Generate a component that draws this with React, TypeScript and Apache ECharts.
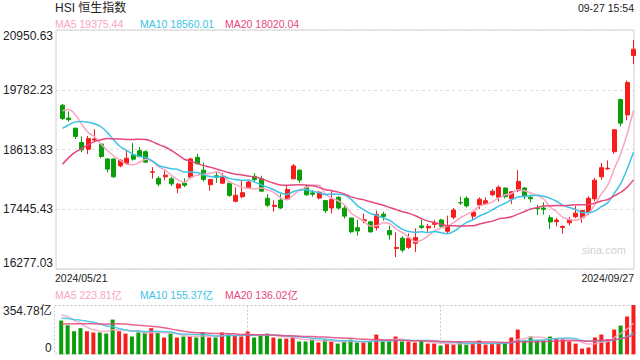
import React, { useEffect, useRef } from 'react';
import * as echarts from 'echarts';

const DATES = ['2024/05/21', '2024/09/27'];
const TITLE = 'HSI 恒生指数';
const TIME_LABEL = '09-27 15:54';
const PRICE_MA_LABELS = ['MA5 19375.44', 'MA10 18560.01', 'MA20 18020.04'];
const VOL_MA_LABELS = ['MA5 223.81亿', 'MA10 155.37亿', 'MA20 136.02亿'];
const PRICE_MIN = 16277.03;
const PRICE_MAX = 20950.63;
const PRICE_STEP = 1168.4;
const VOL_MAX = 354.78;

// closes of the 19 sessions before the first candle (for the moving averages)
const PRE_CLOSE = [16511.69, 16828.93, 17201.27, 17284.54, 17651.15, 17746.91, 17763.03, 18207.13, 18475.92, 18578.3,
  18479.37, 18313.86, 18537.81, 18963.68, 19115.06, 19073.71, 19376.53, 19553.61, 19636.22];

const OPEN = [19480, 19230, 19030, 18750, 18620, 18800, 18720, 18430, 18430, 18295,
  18340, 18510, 18590, 18570, 18170, 18050, 18080, 18040, 17860, 17955,
  18070, 18460, 18210, 17925, 18100, 17955, 17955, 17600, 17690, 17870,
  18090, 18040, 17660, 17500, 17625, 17635, 18040, 18210, 17875, 17765,
  17665, 17615, 17470, 17680, 17465, 17275, 17085, 17220, 17200, 17085,
  17350, 17030, 16680, 16880, 16700, 16780, 17120, 17080, 17150, 17235,
  17015, 17290, 17575, 17660, 17310, 17530, 17550, 17730, 17680, 17860,
  17650, 17810, 17860, 17680, 17470, 17470, 17280, 17200, 17090, 17180,
  17300, 17280, 17390, 17650, 18080, 18235, 18570, 19590, 19290, 20450];

const CLOSE = [19220.62, 19195.6, 18868.71, 18608.94, 18827.35, 18821.16, 18477.01, 18230.19, 18079.61, 18403.04,
  18444.11, 18424.96, 18475.53, 18366.95, 18176.34, 17937.84, 18112.63, 17941.78, 17936.12, 17915.55,
  18430.39, 18335.32, 18028.52, 18027.71, 18072.9, 18089.93, 17716.47, 17718.61, 17769.14, 17978.57,
  18028.28, 17799.61, 17524.06, 17523.23, 17471.67, 17832.33, 18293.38, 18015.94, 17727.98, 17739.41,
  17778.41, 17417.68, 17635.88, 17469.36, 17311.05, 17005.3, 17021.31, 17238.0, 17002.91, 17344.6,
  17304.96, 16945.51, 16698.36, 16647.34, 16877.86, 16891.83, 17090.23, 17111.83, 17174.06, 17113.36,
  17109.14, 17430.16, 17569.57, 17511.2, 17391.01, 17641.04, 17612.1, 17798.73, 17874.67, 17692.45,
  17786.32, 17989.07, 17691.97, 17651.15, 17457.34, 17444.3, 17196.96, 17234.09, 17108.71, 17240.39,
  17369.09, 17422.12, 17660.02, 18013.16, 18258.57, 18247.11, 19000.56, 19129.1, 19924.58, 20575.85];

const LOW = [19190, 19160, 18820, 18560, 18525, 18760, 18440, 18165, 18060, 18265,
  18320, 18395, 18460, 18350, 18045, 17895, 18010, 17900, 17760, 17880,
  18040, 18320, 17985, 17810, 17960, 17935, 17690, 17580, 17660, 17840,
  17980, 17790, 17490, 17400, 17450, 17630, 18040, 17960, 17710, 17690,
  17640, 17370, 17360, 17440, 17260, 16975, 16930, 17170, 16990, 17030,
  17225, 16850, 16510, 16600, 16670, 16610, 17060, 17005, 17080, 17090,
  16970, 17250, 17530, 17480, 17230, 17450, 17530, 17700, 17600, 17660,
  17550, 17780, 17640, 17580, 17330, 17340, 17060, 17110, 16970, 17130,
  17270, 17180, 17330, 17600, 18020, 18215, 18530, 19065, 19185, 20285];

const HIGH = [19505, 19360, 19040, 18870, 18880, 19010, 18740, 18440, 18440, 18425,
  18590, 18740, 18660, 18600, 18270, 18090, 18200, 18080, 17960, 18050,
  18450, 18530, 18360, 18040, 18170, 18155, 17960, 17875, 18005, 18000,
  18150, 18100, 17740, 17620, 17740, 17920, 18330, 18220, 17930, 17820,
  17800, 17620, 17810, 17700, 17510, 17280, 17240, 17360, 17220, 17420,
  17400, 17125, 16990, 16920, 16975, 17070, 17240, 17160, 17240, 17260,
  17320, 17470, 17690, 17700, 17410, 17680, 17680, 17840, 17910, 17870,
  17800, 18210, 17880, 17730, 17530, 17580, 17330, 17280, 17130, 17300,
  17510, 17430, 17700, 18060, 18350, 18400, 19010, 19610, 19960, 20755];

// turnover, 亿
const PRE_VOLUME = [150, 165, 180, 170, 160, 175, 190, 168, 182, 190, 220, 245, 230, 250, 230, 270, 300, 285, 317];
const VOLUME = [243, 209, 166, 188, 166, 157, 157, 149, 250, 166,
  149, 128, 157, 157, 188, 157, 121, 149, 121, 128,
  128, 121, 157, 121, 121, 157, 149, 135, 128, 164,
  121, 135, 149, 121, 113, 113, 121, 92, 92, 106,
  85, 106, 92, 77, 92, 106, 85, 85, 92, 142,
  92, 92, 128, 92, 92, 85, 99, 77, 77, 63,
  77, 70, 92, 70, 77, 99, 70, 77, 77, 85,
  121, 178, 99, 128, 99, 99, 128, 113, 113, 92,
  77, 41, 49, 121, 142, 108, 178, 207, 272, 354.78];

const UP = '#f71d1d';
const DOWN = '#0a9e0a';
const MA_COLORS = ['#f9a5c2', '#3cc3e6', '#e6477c'];
const FONT = '"Liberation Sans", Arial, "Noto Sans CJK SC", sans-serif';

function movingAverage(pre: number[], vals: number[], n: number): number[][] {
  const all = pre.concat(vals);
  const off = pre.length;
  return vals.map((_, i) => {
    let s = 0;
    for (let k = off + i - n + 1; k <= off + i; k++) s += all[k];
    return [i, s / n];
  });
}

export default function App() {
  const ref = useRef<HTMLDivElement>(null);
  useEffect(() => {
    document.body.style.margin = '0';
    const chart = echarts.init(ref.current!, null, { renderer: 'svg' });
    const xMin = -1.01;
    const xMax = 89.08;
    const periods = [5, 10, 20];
    const txt = (x: number, y: number, text: string, color: string, size: number, align = 'left') => ({
      type: 'text', x, y, silent: true,
      style: { text, fill: color, font: `${size}px ${FONT}`, align, verticalAlign: 'middle' },
    });
    const option: any = {
      animation: false,
      backgroundColor: '#fff',
      grid: [
        { left: 54, right: 6, top: 30, height: 239, show: true, borderColor: '#cfcfcf', borderWidth: 1 },
        { left: 54, right: 6, top: 305, height: 49.3 },
      ],
      xAxis: [
        { type: 'value', gridIndex: 0, min: xMin, max: xMax, axisLabel: { show: false }, axisTick: { show: false }, axisLine: { show: false }, splitLine: { show: false } },
        { type: 'value', gridIndex: 1, min: xMin, max: xMax, axisLabel: { show: false }, axisTick: { show: false }, axisLine: { show: false }, splitLine: { show: false } },
      ],
      yAxis: [
        {
          type: 'value', gridIndex: 0, min: PRICE_MIN, max: PRICE_MAX, interval: PRICE_STEP,
          axisLine: { show: false }, axisTick: { show: false },
          axisLabel: {
            color: '#222', fontSize: 12, fontFamily: FONT, margin: 3,
            formatter: (v: number) => v.toFixed(2),
            verticalAlignMaxLabel: 'top', verticalAlignMinLabel: 'bottom',
          },
          splitLine: { lineStyle: { color: '#dcdcdc', type: [3, 3], width: 1 } },
        },
        {
          type: 'value', gridIndex: 1, min: 0, max: VOL_MAX, interval: VOL_MAX,
          axisLine: { show: false }, axisTick: { show: false },
          axisLabel: {
            color: '#222', fontSize: 12, fontFamily: FONT, margin: 3,
            formatter: (v: number) => (v === 0 ? '0' : v.toFixed(2) + '亿'),
            verticalAlignMaxLabel: 'top', verticalAlignMinLabel: 'bottom',
          },
          splitLine: { show: false },
        },
      ],
      series: [
        {
          type: 'candlestick', xAxisIndex: 0, yAxisIndex: 0, barWidth: 4.5,
          data: CLOSE.map((c, i) => [i, OPEN[i], c, LOW[i], HIGH[i]]),
          itemStyle: { color: UP, color0: DOWN, borderColor: UP, borderColor0: DOWN, borderWidth: 1 },
        },
        ...periods.map((n, k) => ({
          type: 'line', xAxisIndex: 0, yAxisIndex: 0, showSymbol: false, smooth: 0.3,
          data: movingAverage(PRE_CLOSE, CLOSE, n),
          lineStyle: { color: MA_COLORS[k], width: 1.5 }, z: 3,
        })),
        {
          type: 'bar', xAxisIndex: 1, yAxisIndex: 1, barWidth: 4,
          data: VOLUME.map((v, i) => ({ value: [i, v], itemStyle: { color: CLOSE[i] >= OPEN[i] ? UP : DOWN } })),
        },
        ...periods.map((n, k) => ({
          type: 'line', xAxisIndex: 1, yAxisIndex: 1, showSymbol: false, smooth: 0.3,
          data: movingAverage(PRE_VOLUME, VOLUME, n),
          lineStyle: { color: MA_COLORS[k], width: 1.5, opacity: 0.85 }, z: 3,
        })),
      ],
      graphic: [
        txt(55, 8, TITLE, '#222', 12),
        txt(634, 8, TIME_LABEL, '#222', 10.5, 'right'),
        txt(55, 24, PRICE_MA_LABELS[0], MA_COLORS[0], 10.5),
        txt(140, 24, PRICE_MA_LABELS[1], MA_COLORS[1], 10.5),
        txt(225, 24, PRICE_MA_LABELS[2], MA_COLORS[2], 10.5),
        txt(55, 278, DATES[0], '#222', 10.5),
        txt(634, 278, DATES[1], '#222', 10.5, 'right'),
        txt(55, 295, VOL_MA_LABELS[0], MA_COLORS[0], 10.5),
        txt(140, 295, VOL_MA_LABELS[1], MA_COLORS[1], 10.5),
        txt(225, 295, VOL_MA_LABELS[2], MA_COLORS[2], 10.5),
        txt(582, 250, 'sina.com', '#d2d2d2', 11),
        {
          type: 'rect', silent: true, z: -1,
          shape: { x: 54.5, y: 305.5, width: 579, height: 48.5 },
          style: { fill: 'none', stroke: '#c8c8c8', lineWidth: 1, lineDash: [2, 2] },
        },
        { type: 'line', silent: true, shape: { x1: 247.5, y1: 305.5, x2: 247.5, y2: 354 }, style: { stroke: '#c8c8c8', lineWidth: 1, lineDash: [2, 2] } },
        { type: 'line', silent: true, shape: { x1: 440.5, y1: 305.5, x2: 440.5, y2: 354 }, style: { stroke: '#c8c8c8', lineWidth: 1, lineDash: [2, 2] } },
      ],
    };
    chart.setOption(option);
    return () => chart.dispose();
  }, []);
  return <div ref={ref} style={{ width: 640, height: 360, background: '#fff' }} />;
}
